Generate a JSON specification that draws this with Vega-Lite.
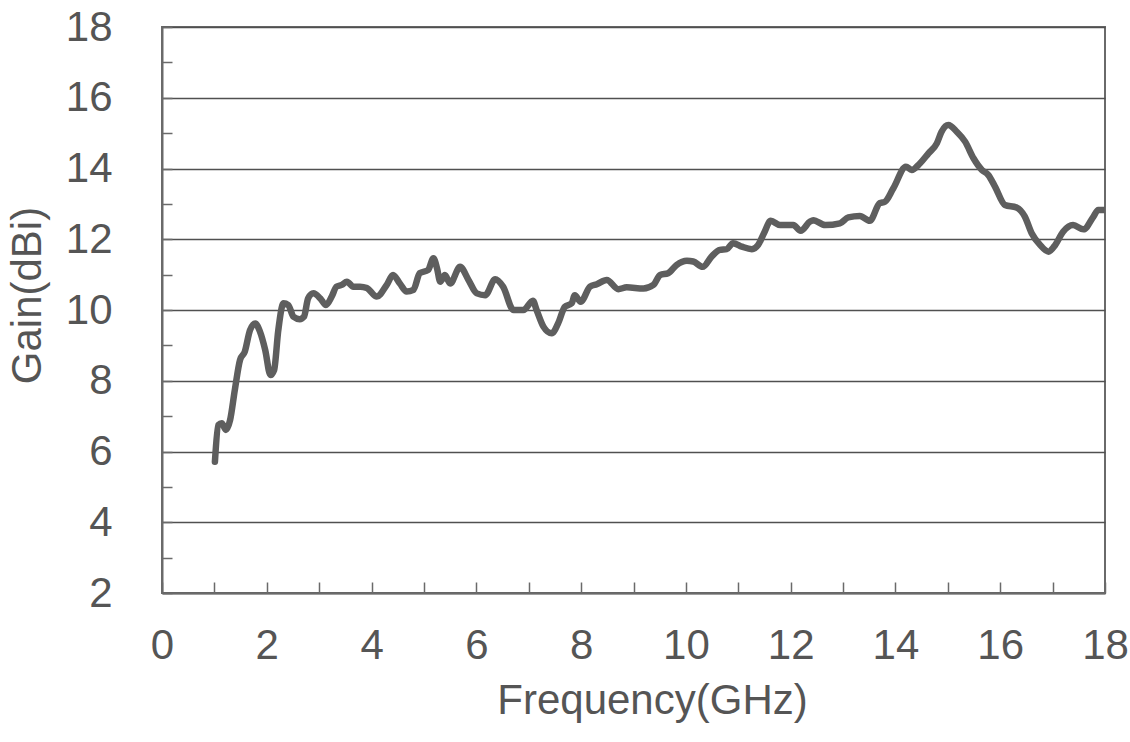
{
  "$schema": "https://vega.github.io/schema/vega-lite/v6.json",
  "autosize": "none",
  "width": 943,
  "height": 566,
  "padding": {"left": 162, "top": 27, "right": 25, "bottom": 149},
  "background": "white",
  "config": {
    "font": "Liberation Sans",
    "view": {"stroke": "#6a6a6a", "strokeWidth": 2}
  },
  "data": {
    "values": [
      {"f": 1.01, "g": 5.71}, {"f": 1.075, "g": 6.75}, {"f": 1.14, "g": 6.8}, {"f": 1.22, "g": 6.61},
      {"f": 1.3, "g": 6.89}, {"f": 1.39, "g": 7.74}, {"f": 1.49, "g": 8.59}, {"f": 1.58, "g": 8.82},
      {"f": 1.68, "g": 9.43}, {"f": 1.78, "g": 9.62}, {"f": 1.87, "g": 9.39}, {"f": 1.97, "g": 8.87},
      {"f": 2.07, "g": 8.16}, {"f": 2.14, "g": 8.3}, {"f": 2.22, "g": 9.43}, {"f": 2.32, "g": 10.19},
      {"f": 2.41, "g": 10.14}, {"f": 2.51, "g": 9.81}, {"f": 2.63, "g": 9.74}, {"f": 2.71, "g": 9.81},
      {"f": 2.79, "g": 10.33}, {"f": 2.89, "g": 10.47}, {"f": 3.02, "g": 10.33}, {"f": 3.13, "g": 10.14},
      {"f": 3.24, "g": 10.38}, {"f": 3.33, "g": 10.66}, {"f": 3.43, "g": 10.71}, {"f": 3.53, "g": 10.8},
      {"f": 3.65, "g": 10.66}, {"f": 3.78, "g": 10.66}, {"f": 3.91, "g": 10.62}, {"f": 4.1, "g": 10.38},
      {"f": 4.29, "g": 10.71}, {"f": 4.41, "g": 10.99}, {"f": 4.54, "g": 10.75}, {"f": 4.67, "g": 10.52},
      {"f": 4.8, "g": 10.57}, {"f": 4.92, "g": 11.04}, {"f": 5.08, "g": 11.13}, {"f": 5.18, "g": 11.46},
      {"f": 5.25, "g": 11.18}, {"f": 5.31, "g": 10.8}, {"f": 5.4, "g": 10.99}, {"f": 5.5, "g": 10.75},
      {"f": 5.69, "g": 11.22}, {"f": 5.85, "g": 10.85}, {"f": 6.01, "g": 10.47}, {"f": 6.17, "g": 10.42},
      {"f": 6.36, "g": 10.87}, {"f": 6.51, "g": 10.66}, {"f": 6.71, "g": 10.0}, {"f": 6.9, "g": 10.0},
      {"f": 7.08, "g": 10.26}, {"f": 7.15, "g": 10.0}, {"f": 7.28, "g": 9.53}, {"f": 7.44, "g": 9.34},
      {"f": 7.56, "g": 9.62}, {"f": 7.69, "g": 10.09}, {"f": 7.82, "g": 10.19}, {"f": 7.88, "g": 10.42},
      {"f": 7.99, "g": 10.23}, {"f": 8.17, "g": 10.66}, {"f": 8.3, "g": 10.73}, {"f": 8.49, "g": 10.85},
      {"f": 8.71, "g": 10.59}, {"f": 8.87, "g": 10.64}, {"f": 9.19, "g": 10.61}, {"f": 9.38, "g": 10.71},
      {"f": 9.51, "g": 10.99}, {"f": 9.66, "g": 11.04}, {"f": 9.82, "g": 11.27}, {"f": 10.02, "g": 11.39},
      {"f": 10.14, "g": 11.37}, {"f": 10.32, "g": 11.22}, {"f": 10.49, "g": 11.51}, {"f": 10.65, "g": 11.7},
      {"f": 10.78, "g": 11.72}, {"f": 10.9, "g": 11.89}, {"f": 11.07, "g": 11.79}, {"f": 11.26, "g": 11.72},
      {"f": 11.38, "g": 11.84}, {"f": 11.49, "g": 12.17}, {"f": 11.62, "g": 12.52}, {"f": 11.8, "g": 12.4},
      {"f": 12.05, "g": 12.4}, {"f": 12.19, "g": 12.24}, {"f": 12.37, "g": 12.5}, {"f": 12.43, "g": 12.54},
      {"f": 12.66, "g": 12.4}, {"f": 12.94, "g": 12.45}, {"f": 13.1, "g": 12.62}, {"f": 13.32, "g": 12.66},
      {"f": 13.51, "g": 12.52}, {"f": 13.7, "g": 13.02}, {"f": 13.8, "g": 13.06}, {"f": 13.96, "g": 13.44},
      {"f": 14.2, "g": 14.05}, {"f": 14.31, "g": 13.96}, {"f": 14.47, "g": 14.15}, {"f": 14.63, "g": 14.43},
      {"f": 14.79, "g": 14.71}, {"f": 14.88, "g": 15.04}, {"f": 15.01, "g": 15.23}, {"f": 15.17, "g": 15.04},
      {"f": 15.33, "g": 14.76}, {"f": 15.49, "g": 14.29}, {"f": 15.65, "g": 13.96}, {"f": 15.77, "g": 13.82},
      {"f": 15.9, "g": 13.49}, {"f": 16.09, "g": 12.97}, {"f": 16.31, "g": 12.9}, {"f": 16.47, "g": 12.64},
      {"f": 16.6, "g": 12.17}, {"f": 16.76, "g": 11.84}, {"f": 16.92, "g": 11.65}, {"f": 17.05, "g": 11.84},
      {"f": 17.2, "g": 12.21}, {"f": 17.39, "g": 12.4}, {"f": 17.59, "g": 12.28}, {"f": 17.78, "g": 12.64},
      {"f": 17.87, "g": 12.83}, {"f": 18.0, "g": 12.83}
    ]
  },
  "mark": {"type": "line", "color": "#5e5e5e", "strokeWidth": 6.5, "interpolate": "monotone", "strokeCap": "round", "strokeJoin": "round", "clip": true},
  "encoding": {
    "x": {
      "field": "f", "type": "quantitative",
      "scale": {"domain": [0, 18], "nice": false, "zero": false},
      "axis": {
        "title": "Frequency(GHz)",
        "values": [0,1,2,3,4,5,6,7,8,9,10,11,12,13,14,15,16,17,18],
        "labelExpr": "datum.value % 2 ? '' : datum.label",
        "grid": false,
        "tickSize": -11, "tickColor": "#6a6a6a", "tickWidth": 1.5,
        "domainColor": "#6a6a6a", "domainWidth": 2,
        "labelFontSize": 42, "labelColor": "#555555", "labelPadding": 43,
        "labelFlush": false, "labelOverlap": false,
        "titleFontSize": 42, "titleFontWeight": "normal", "titleColor": "#555555", "titlePadding": 14,
        "titleX": 490
      }
    },
    "y": {
      "field": "g", "type": "quantitative",
      "scale": {"domain": [2, 18], "nice": false, "zero": false},
      "axis": {
        "title": "Gain(dBi)",
        "values": [2,3,4,5,6,7,8,9,10,11,12,13,14,15,16,17,18],
        "labelExpr": "datum.value % 2 ? '' : datum.label",
        "grid": true,
        "gridColor": "#505050", "gridWidth": 1.5,
        "gridOpacity": {"condition": {"test": "datum.value % 2 === 1", "value": 0}, "value": 1},
        "tickSize": -10, "tickColor": "#6a6a6a", "tickWidth": 1.5,
        "domainColor": "#6a6a6a", "domainWidth": 2,
        "labelFontSize": 42, "labelColor": "#555555", "labelPadding": 60,
        "labelFlush": false, "labelOverlap": false,
        "titleFontSize": 42, "titleFontWeight": "normal", "titleColor": "#555555", "titlePadding": 16,
        "titleY": 268
      }
    }
  }
}
